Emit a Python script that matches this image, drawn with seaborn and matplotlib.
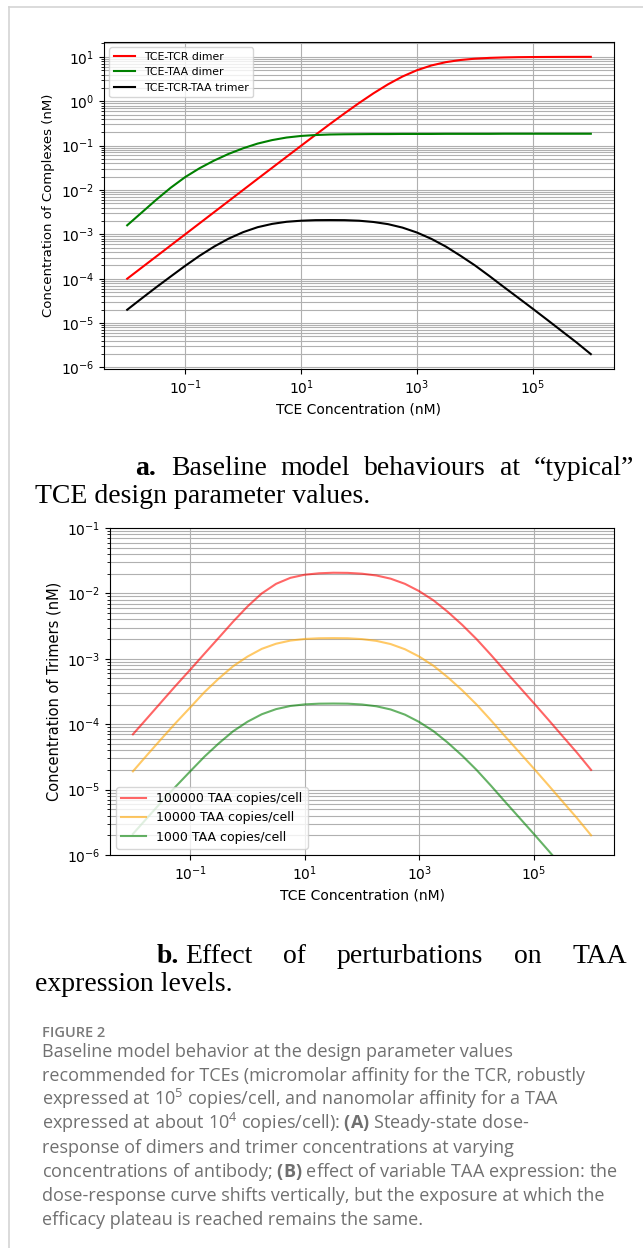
import matplotlib
matplotlib.use("Agg")
import matplotlib.pyplot as plt
from matplotlib.lines import Line2D
from matplotlib.ticker import LogLocator, NullLocator
import seaborn as sns

W, H = 643, 1248

# TCE concentration (nM), quarter-decade steps
tce_nm = [0.01, 0.0178, 0.0316, 0.0562, 0.1, 0.178, 0.316, 0.562,
          1, 1.78, 3.16, 5.62, 10, 17.8, 31.6, 56.2,
          100, 178, 316, 562, 1e3, 1.78e3, 3.16e3, 5.62e3,
          1e4, 1.78e4, 3.16e4, 5.62e4, 1e5, 1.78e5, 3.16e5, 5.62e5, 1e6]

# panel a: complexes (nM)
tcr_dimer = [1.0e-4, 1.78e-4, 3.16e-4, 5.62e-4, 1.0e-3, 1.78e-3, 3.16e-3, 5.62e-3,
             1.0e-2, 1.78e-2, 3.15e-2, 5.59e-2, 9.9e-2, 0.175, 0.307, 0.532,
             0.909, 1.51, 2.40, 3.60, 5.0, 6.40, 7.60, 8.49,
             9.09, 9.47, 9.69, 9.83, 9.90, 9.94, 9.97, 9.98, 9.99]
taa_dimer = [1.6e-3, 3.1e-3, 6.0e-3, 1.12e-2, 1.95e-2, 3.1e-2, 4.6e-2, 6.5e-2,
             8.7e-2, 0.111, 0.133, 0.152, 0.165, 0.173, 0.178, 0.180,
             0.181, 0.182, 0.182, 0.183, 0.183, 0.183, 0.184, 0.184,
             0.184, 0.184, 0.185, 0.185, 0.185, 0.185, 0.185, 0.185, 0.185]
trimer = [2.0e-5, 3.6e-5, 6.4e-5, 1.12e-4, 1.95e-4, 3.3e-4, 5.3e-4, 8.0e-4,
          1.12e-3, 1.45e-3, 1.72e-3, 1.92e-3, 2.03e-3, 2.09e-3, 2.1e-3, 2.09e-3,
          2.03e-3, 1.9e-3, 1.7e-3, 1.42e-3, 1.1e-3, 7.9e-4, 5.3e-4, 3.3e-4,
          2.0e-4, 1.15e-4, 6.5e-5, 3.7e-5, 2.1e-5, 1.18e-5, 6.6e-6, 3.7e-6, 2.0e-6]

# panel b: trimers (nM) for three TAA expression levels
taa_1e5 = [7.0e-5, 1.24e-4, 2.2e-4, 3.9e-4, 6.8e-4, 1.2e-3, 2.1e-3, 3.7e-3,
           6.3e-3, 1.0e-2, 1.4e-2, 1.73e-2, 1.93e-2, 2.03e-2, 2.07e-2, 2.06e-2,
           2.0e-2, 1.88e-2, 1.68e-2, 1.4e-2, 1.08e-2, 7.8e-3, 5.2e-3, 3.3e-3,
           2.0e-3, 1.15e-3, 6.5e-4, 3.7e-4, 2.1e-4, 1.18e-4, 6.6e-5, 3.7e-5, 2.0e-5]
taa_1e4 = [1.9e-5, 3.4e-5, 6.0e-5, 1.05e-4, 1.8e-4, 3.1e-4, 5.0e-4, 7.7e-4,
           1.08e-3, 1.42e-3, 1.7e-3, 1.9e-3, 2.01e-3, 2.06e-3, 2.07e-3, 2.06e-3,
           2.0e-3, 1.88e-3, 1.68e-3, 1.4e-3, 1.08e-3, 7.8e-4, 5.2e-4, 3.3e-4,
           2.0e-4, 1.15e-4, 6.5e-5, 3.7e-5, 2.1e-5, 1.18e-5, 6.6e-6, 3.7e-6, 2.0e-6]
taa_1e3 = [2.1e-6, 3.7e-6, 6.5e-6, 1.12e-5, 1.9e-5, 3.2e-5, 5.1e-5, 7.8e-5,
           1.09e-4, 1.42e-4, 1.7e-4, 1.9e-4, 2.01e-4, 2.06e-4, 2.07e-4, 2.06e-4,
           2.0e-4, 1.88e-4, 1.68e-4, 1.4e-4, 1.08e-4, 7.8e-5, 5.2e-5, 3.3e-5,
           2.0e-5, 1.15e-5, 6.5e-6, 3.7e-6, 2.1e-6, 1.18e-6, 6.6e-7, 3.7e-7, 2.0e-7]

labels_a = ["TCE-TCR dimer", "TCE-TAA dimer", "TCE-TCR-TAA trimer"]
labels_b = ["100000 TAA copies/cell", "10000 TAA copies/cell", "1000 TAA copies/cell"]
x_ticks = [1e-1, 1e1, 1e3, 1e5]

plt.rcParams["mathtext.rm"] = "Open Sans"
plt.rcParams["mathtext.bf"] = "Open Sans:bold"

GRID = dict(color="#b0b0b0", linewidth=0.8)


def style_log_axes(ax):
    ax.set_xscale("log")
    ax.set_yscale("log")
    ax.set_xticks(x_ticks)
    ax.xaxis.set_minor_locator(NullLocator())
    ax.yaxis.set_major_locator(LogLocator(base=10, numticks=30))
    ax.yaxis.set_minor_locator(LogLocator(base=10, subs=range(2, 10), numticks=30))
    ax.grid(True, which="major", **GRID)
    ax.yaxis.grid(True, which="minor", **GRID)
    ax.set_xlabel("TCE Concentration (nM)")


fig = plt.figure(figsize=(W / 100, H / 100), dpi=100)

# panel a
ax_a = fig.add_axes([104 / W, 1 - 369 / H, 510 / W, 327 / H])
for vals, color, lab in zip([tcr_dimer, taa_dimer, trimer], ["red", "green", "black"], labels_a):
    sns.lineplot(x=tce_nm, y=vals, color=color, label=lab, linewidth=1.5, ax=ax_a)
style_log_axes(ax_a)
ax_a.set_ylabel("Concentration of Complexes (nM)", fontsize=9.5)
ax_a.legend(loc="upper left", fontsize=7.8)

# panel b
ax_b = fig.add_axes([110 / W, 1 - 855 / H, 504 / W, 327 / H])
for vals, color, lab in zip([taa_1e5, taa_1e4, taa_1e3], ["red", "orange", "green"], labels_b):
    sns.lineplot(x=tce_nm, y=vals, color=color, alpha=0.6, label=lab, linewidth=1.5, ax=ax_b)
style_log_axes(ax_b)
ax_b.set_ylim(1e-6, 1e-1)
ax_b.set_ylabel("Concentration of Trimers (nM)", fontsize=10.5)
ax_b.legend(loc="lower left", fontsize=9)

renderer = fig.canvas.get_renderer()


def put(x, yb, s, **kw):
    return fig.text(x / W, 1 - yb / H, s, va="baseline", ha="left", **kw)


def justify(words, x0, x1, yb, **kw):
    # place words so the line runs flush from x0 to x1
    texts = [put(x0, yb, w, **kw) for w in words]
    widths = [t.get_window_extent(renderer).width for t in texts]
    gap = (x1 - x0 - sum(widths)) / (len(words) - 1)
    x = x0
    for t, w in zip(texts, widths):
        t.set_x(x / W)
        x += w + gap


# sub-captions
serif = dict(family="Liberation Serif", fontsize=20, color="black")
put(135, 475, "a.", fontweight="bold", **serif)
justify(["Baseline", "model", "behaviours", "at", "\u201ctypical\u201d"], 171, 634, 475, **serif)
put(35, 503, "TCE design parameter values.", **serif)

put(157, 963, "b.", fontweight="bold", **serif)
justify(["Effect", "of", "perturbations", "on", "TAA"], 185, 627, 963, **serif)
put(35, 991, "expression levels.", **serif)

# figure caption
put(42, 1037, "FIGURE 2", family="Open Sans", fontweight="semibold", fontsize=10.5, color="#7a7a7a")
caption_lines = [
    "Baseline model behavior at the design parameter values",
    "recommended for TCEs (micromolar affinity for the TCR, robustly",
    "expressed at $10^5$ copies/cell, and nanomolar affinity for a TAA",
    "expressed at about $10^4$ copies/cell): $\\mathbf{(A)}$ Steady-state dose-",
    "response of dimers and trimer concentrations at varying",
    "concentrations of antibody; $\\mathbf{(B)}$ effect of variable TAA expression: the",
    "dose-response curve shifts vertically, but the exposure at which the",
    "efficacy plateau is reached remains the same.",
]
for i, line in enumerate(caption_lines):
    fig.text(42 / W, 1 - (1057 + 24 * i) / H, line, va="baseline", ha="left",
             family="Open Sans", fontsize=13, color="#707070", math_fontfamily="custom")

# page frame
fig.add_artist(Line2D([9 / W, 9 / W], [0, 1 - 7 / H], color="#d4d4d4", linewidth=1.2))
fig.add_artist(Line2D([9 / W, 1], [1 - 7 / H, 1 - 7 / H], color="#d4d4d4", linewidth=1.2))

fig.savefig("out.png", dpi=100)
